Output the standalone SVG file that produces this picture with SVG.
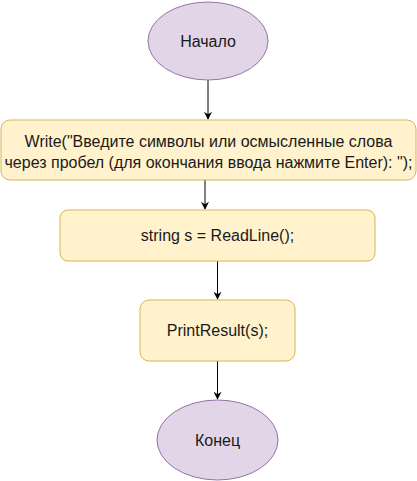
<svg xmlns="http://www.w3.org/2000/svg" width="417" height="481" viewBox="0 0 417 481">
<style>
.term{fill:#e1d5e7;stroke:#9673a6;stroke-width:1}
.proc{fill:#fff2cc;stroke:#d6b656;stroke-width:1}
text{font-family:"Liberation Sans",Arial,sans-serif;font-size:16px;fill:#1a1a1a;text-anchor:middle;dominant-baseline:central}
.edge{stroke:#000;stroke-width:1;fill:none;marker-end:url(#arr)}
</style>
<defs>
<marker id="arr" viewBox="0 0 10 10" refX="9" refY="5" markerWidth="8" markerHeight="8" markerUnits="userSpaceOnUse" orient="auto">
<path d="M0,0 L10,5 L0,10 L3,5 Z" fill="#000"/>
</marker>
</defs>
<rect width="417" height="481" fill="#fff"/>
<g id="connectors">
<path class="edge" d="M208,80 V119"/>
<path class="edge" d="M205,180 V209"/>
<path class="edge" d="M217.5,261 V299"/>
<path class="edge" d="M217.5,361 V399"/>
</g>
<g id="start"><ellipse class="term" cx="208" cy="41" rx="60" ry="39"/><text x="208" y="41">Начало</text></g>
<g id="write"><rect class="proc" x="1" y="120" width="415" height="60" rx="9"/><text x="208.5" y="141">Write("Введите символы или осмысленные слова</text><text x="208.5" y="162">через пробел (для окончания ввода нажмите Enter): ");</text></g>
<g id="read"><rect class="proc" x="60" y="210" width="315" height="51" rx="8"/><text x="217.5" y="235.5">string s = ReadLine();</text></g>
<g id="print"><rect class="proc" x="140" y="300" width="155" height="61" rx="9"/><text x="217.5" y="330.5">PrintResult(s);</text></g>
<g id="end"><ellipse class="term" cx="217.5" cy="440" rx="60.5" ry="40"/><text x="217.5" y="440">Конец</text></g>
</svg>
